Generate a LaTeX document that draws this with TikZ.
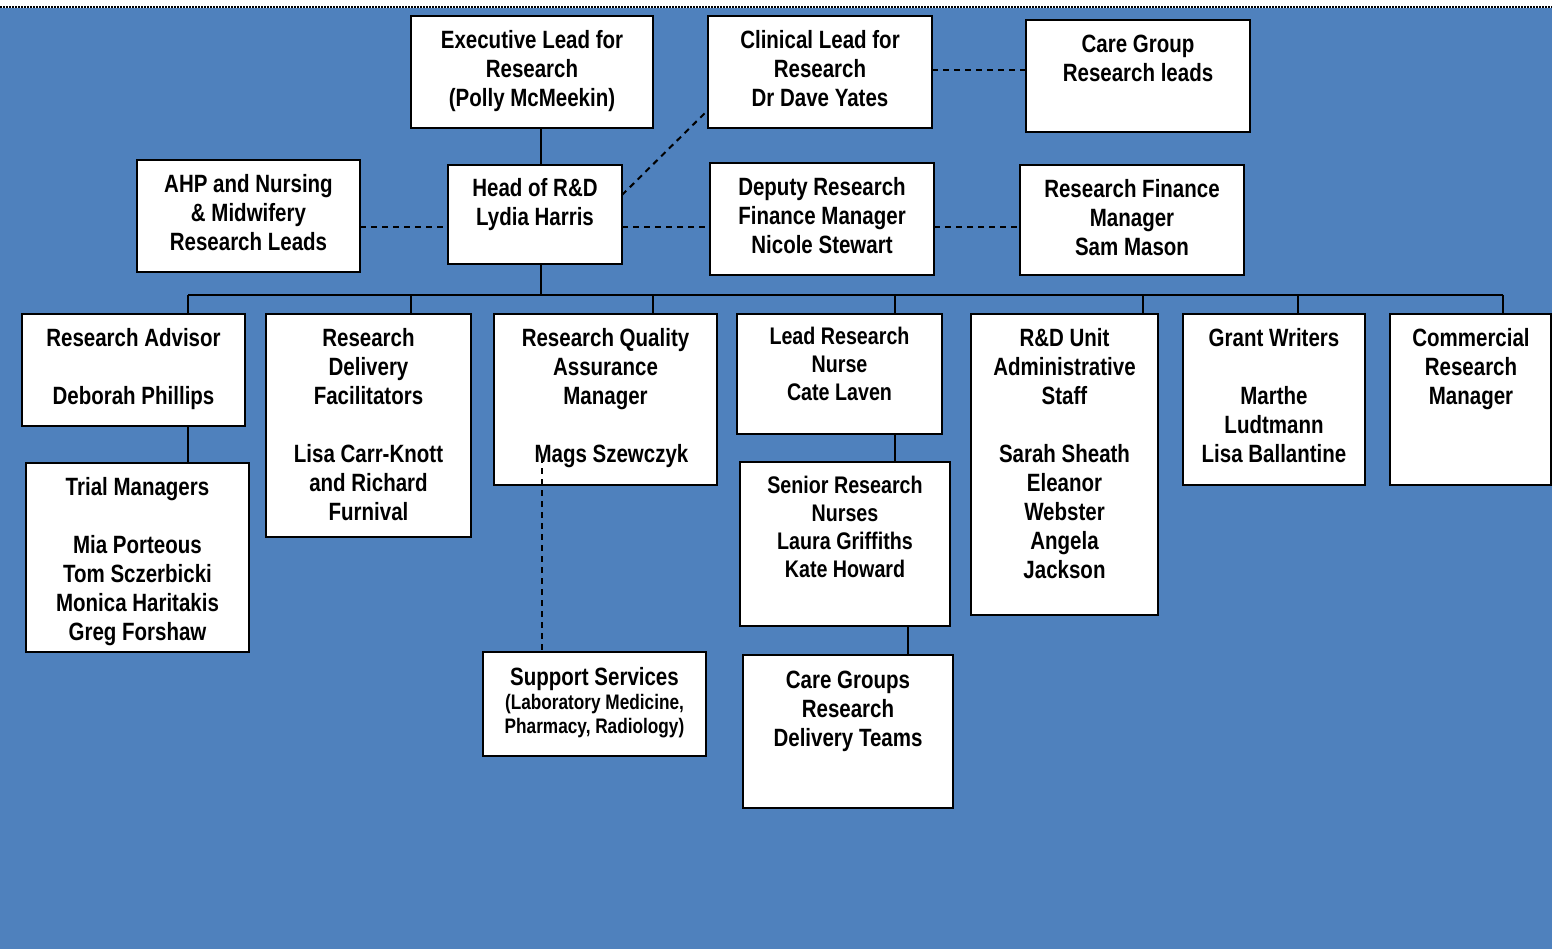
\documentclass[tikz,border=0pt]{standalone}
\usepackage{fontspec}
\setmainfont{Liberation Sans}[FakeStretch=0.82]
\definecolor{bg}{HTML}{4F81BD}
\tikzset{
  box/.style={draw=black, line width=2.2pt, fill=white, inner sep=0pt, outer sep=0pt},
  txt/.style={font=\fontsize{25}{29}\selectfont\bfseries, align=center, inner sep=0pt, anchor=north, yshift=1pt},
  txtsm/.style={font=\fontsize{24}{28}\selectfont\bfseries, align=center, inner sep=0pt, anchor=north, yshift=1pt},
  txtxs/.style={font=\fontsize{21}{24}\selectfont\bfseries, align=center, inner sep=0pt, anchor=north, yshift=1pt},
  conn/.style={draw=black, line width=2pt},
  dsh/.style={draw=black, line width=2pt, dash pattern=on 6pt off 5pt}
}
\newcommand{\mybox}[5]{\node[box, minimum width={#4pt-#2pt}, minimum height={#5pt-#3pt}] (#1) at ({(#2+#4)/2},{(#3+#5)/2}) {};}
\begin{document}
\begin{tikzpicture}[x=1pt,y=-1pt]
\useasboundingbox (0,0) rectangle (1552,949);
\fill[white] (0,0) rectangle (1552,8);
\fill[bg] (0,8) rectangle (1552,949);
\draw[line width=1.5pt, dash pattern=on 1.5pt off 1.5pt] (0,7) -- (1552,7);

% boxes
\mybox{exec}{411}{16}{653}{128}
\mybox{clin}{708}{16}{932}{128}
\mybox{cgl}{1026}{20}{1250}{132}
\mybox{ahp}{137}{160}{360}{272}
\mybox{head}{448}{165}{622}{264}
\mybox{dep}{710}{163}{934}{275}
\mybox{fin}{1020}{165}{1244}{275}
\mybox{adv}{22}{314}{245}{426}
\mybox{del}{266}{314}{471}{537}
\mybox{qa}{494}{314}{717}{485}
\mybox{lrn}{737}{314}{942}{434}
\mybox{rdu}{971}{314}{1158}{615}
\mybox{grant}{1183}{314}{1365}{485}
\mybox{comm}{1390}{314}{1551}{485}
\mybox{trial}{26}{463}{249}{652}
\mybox{srn}{740}{462}{950}{626}
\mybox{cgt}{743}{655}{953}{808}
\mybox{sup}{483}{652}{706}{756}

% coordinates
\coordinate (bus) at (541,295);
\coordinate (busL) at (188,295);
\coordinate (busR) at (1503,295);
\coordinate (d1) at (188,295);
\coordinate (d2) at (411,295);
\coordinate (d3) at (653,295);
\coordinate (d4) at (895,295);
\coordinate (d5) at (1143,295);
\coordinate (d6) at (1298,295);
\coordinate (d7) at (1503,295);
\coordinate (s2) at (908,640);
\coordinate (hl) at (0,227);
\coordinate (cl) at (0,70);
\coordinate (hd) at (622,195);
\coordinate (cd) at (708,110);
\coordinate (qs) at (542,457);

% solid connectors
\draw[conn] (exec.south -| bus) -- (head.north -| bus);
\draw[conn] (head.south -| bus) -- (bus);
\draw[conn] (busL) -- (busR);
\draw[conn] (d1) -- (d1 |- adv.north);
\draw[conn] (d2) -- (d2 |- del.north);
\draw[conn] (d3) -- (d3 |- qa.north);
\draw[conn] (d4) -- (d4 |- lrn.north);
\draw[conn] (d5) -- (d5 |- rdu.north);
\draw[conn] (d6) -- (d6 |- grant.north);
\draw[conn] (d7) -- (d7 |- comm.north);
\draw[conn] (adv.south -| d1) -- (trial.north -| d1);
\draw[conn] (lrn.south -| d4) -- (srn.north -| d4);
\draw[conn] (srn.south -| s2) -- (cgt.north -| s2);

% dashed connectors
\draw[dsh] (clin.east |- cl) -- (cgl.west |- cl);
\draw[dsh] (head.east |- hd) -- (clin.west |- cd);
\draw[dsh] (ahp.east |- hl) -- (head.west |- hl);
\draw[dsh] (head.east |- hl) -- (dep.west |- hl);
\draw[dsh] (dep.east |- hl) -- (fin.west |- hl);
\draw[dsh] (qs) -- (sup.north -| qs);

% texts
\node[txt] (exec-t) at (532,28.7) {\strut Executive Lead for\\Research\\(Polly McMeekin)};
\node[txt] (clin-t) at (820,28.7) {\strut Clinical Lead for\\Research\\Dr Dave Yates};
\node[txt] (cgl-t) at (1138,32.7) {\strut Care Group\\Research leads};
\node[txt] (ahp-t) at (248.5,172.7) {\strut AHP and Nursing\\\& Midwifery\\Research Leads};
\node[txt] (head-t) at (535,176.7) {\strut Head of R\&D\\Lydia Harris};
\node[txt] (dep-t) at (822,175.7) {\strut Deputy Research\\Finance Manager\\Nicole Stewart};
\node[txt] (fin-t) at (1132,177.7) {\strut Research Finance\\Manager\\Sam Mason};
\node[txt] (adv-t) at (133.5,326.7) {\strut Research Advisor\\~\\Deborah Phillips};
\node[txt] (del-t) at (368.5,326.7) {\strut Research\\Delivery\\Facilitators\\~\\Lisa Carr-Knott\\and Richard\\Furnival};
\node[txt] (qa-t) at (605.5,326.7) {\strut Research Quality\\Assurance\\Manager\\~\\\hspace*{12pt}Mags Szewczyk};
\node[txtsm] (lrn-t) at (839.5,326) {\strut Lead Research\\Nurse\\Cate Laven};
\node[txt] (rdu-t) at (1064.5,326.7) {\strut R\&D Unit\\Administrative\\Staff\\~\\Sarah Sheath\\Eleanor\\Webster\\Angela\\Jackson};
\node[txt] (grant-t) at (1274,326.7) {\strut Grant Writers\\~\\Marthe\\Ludtmann\\Lisa Ballantine};
\node[txt] (comm-t) at (1471,326.7) {\strut Commercial\\Research\\Manager};
\node[txt] (trial-t) at (137.5,475.7) {\strut Trial Managers\\~\\Mia Porteous\\Tom Sczerbicki\\Monica Haritakis\\Greg Forshaw};
\node[txtsm] (srn-t) at (845,475) {\strut Senior Research\\Nurses\\Laura Griffiths\\Kate Howard};
\node[txt] (cgt-t) at (848,668.7) {\strut Care Groups\\Research\\Delivery Teams};
\node[txt] (sup-t) at (594.5,665.7) {\strut Support Services};
\node[txtxs] (sup-t2) at (594.5,693.7) {\strut (Laboratory Medicine,\\Pharmacy, Radiology)};
\end{tikzpicture}
\end{document}
